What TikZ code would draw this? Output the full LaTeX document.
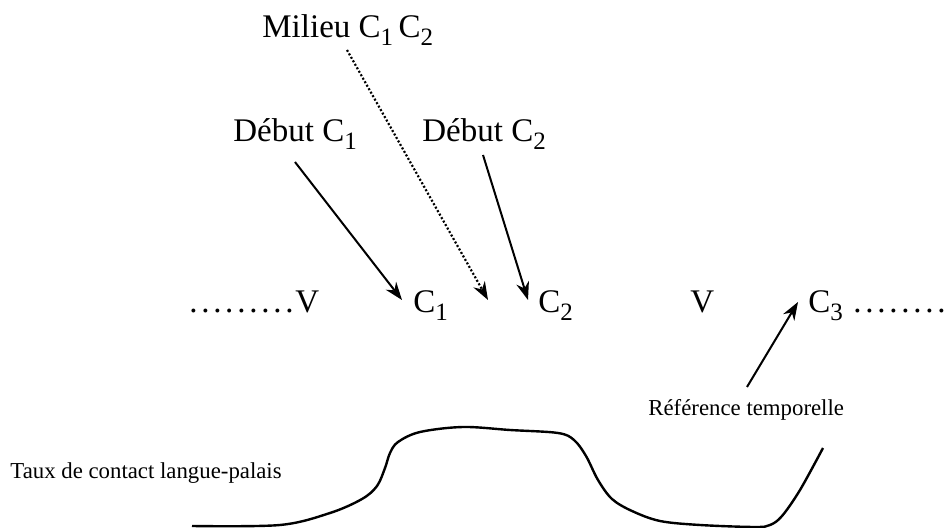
\documentclass[tikz,border=0pt]{standalone}
\usepackage{fontspec}
\setmainfont{Liberation Serif}
\usetikzlibrary{arrows.meta}
\newcommand\mydotrow[1]{\hbox to #1{\leaders\hbox to 6pt{\hss.\hss}\hfill}}
\newcommand\mysub[1]{\raisebox{-0.5ex}{\fontsize{12.5}{13}\selectfont #1}}
\begin{document}
\begin{tikzpicture}[x=0.5pt,y=-0.5pt,
  big/.style={font=\fontsize{16.5}{18}\selectfont, inner sep=0pt, anchor=base west},
  small/.style={font=\fontsize{11.4}{13}\selectfont, inner sep=0pt, anchor=base west},
  arr/.style={-{Stealth[length=9pt,width=6.5pt]}, line width=1pt},
  dotarr/.style={-{Stealth[length=9pt,width=6.5pt]}, line width=1.1pt, dash pattern=on 1pt off 1pt},
  curve/.style={line width=1.2pt}]
\useasboundingbox (0,0) rectangle (947,528);
% labels
\node[big] (milieu) at (262,38) {Milieu C\mysub{1}\,C\mysub{2}};
\node[big] (deb1) at (233,142) {Début C\mysub{1}};
\node[big] (deb2) at (422,142) {Début C\mysub{2}};
% row
\node[big] (v1) at (187,313) {\mydotrow{54pt}V};
\node[big] (c1) at (413,313) {C\mysub{1}};
\node[big] (c2) at (538,313) {C\mysub{2}};
\node[big] (v2) at (690,313) {V};
\node[big] (c3) at (808,313) {C\mysub{3}};
\node[big] (dots2) at (851,313) {\mydotrow{48pt}};
% small labels
\node[small] (ref) at (648,416) {Référence temporelle};
\node[small] (taux) at (10,479) {Taux de contact langue-palais};
% arrow ends
\coordinate (a1s) at (295,162); \coordinate (a1e) at (402,300);
\coordinate (a2s) at (347,50);  \coordinate (a2e) at (488,300);
\coordinate (a3s) at (483,155); \coordinate (a3e) at (528,300);
\coordinate (a4s) at (747,387); \coordinate (a4e) at (798,302);
\draw[arr] (a1s) -- (a1e);
\draw[dotarr] (a2s) -- (a2e);
\draw[arr] (a3s) -- (a3e);
\draw[arr] (a4s) -- (a4e);
% contact curve
\draw[curve] plot[smooth, tension=0.55] coordinates {
 (192,526) (280,525) (330,513) (362,499) (377,486) (385,468) (390,453) (398,442)
 (420,432) (463,427) (510,430) (558,433) (574,440) (586,456) (598,480) (612,499)
 (632,511) (660,521) (700,525) (755,527) (770,525) (782,516) (800,490) (823,448)};
\end{tikzpicture}
\end{document}
